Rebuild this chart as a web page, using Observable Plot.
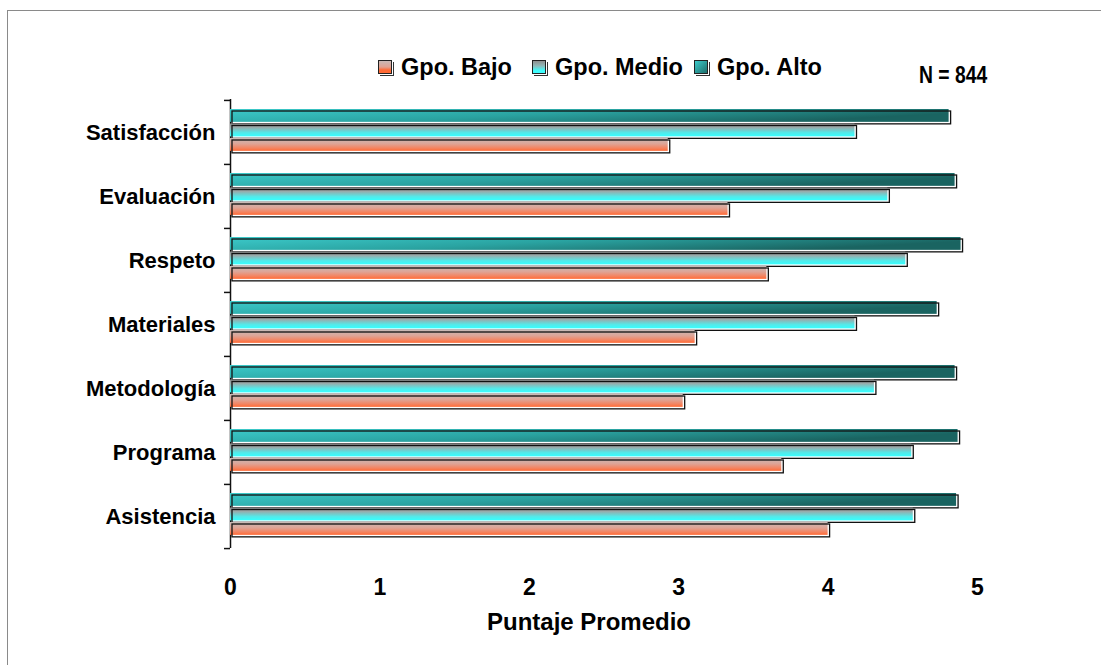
<!DOCTYPE html>
<html>
<head>
<meta charset="utf-8">
<script src="https://cdn.jsdelivr.net/npm/d3@7"></script>
<script src="https://cdn.jsdelivr.net/npm/@observablehq/plot@0.6"></script>
<style>
  body { margin: 0; background: #fff; }
  #wrap { position: relative; width: 1101px; height: 665px; overflow: hidden; font-family: "Liberation Sans", Arial, sans-serif; }
  #border { position: absolute; left: 7px; top: 10px; width: 1300px; height: 900px; border-top: 1.5px solid #8a8a8a; border-left: 1.5px solid #8a8a8a; pointer-events: none; }
  #legend { position: relative; height: 90px; }
  .sw { position: absolute; top: 60px; width: 12px; height: 12px; border: 1.2px solid #222; box-shadow: 1px 1px 0 #fff, 2px 2px 0 #333; }
  .tx { position: absolute; top: 53px; font-weight: bold; font-size: 23.5px; line-height: 28px; color: #000; white-space: nowrap; }
  #n { position: absolute; left: 919px; top: 61px; font-weight: bold; font-size: 23px; line-height: 28px; transform: scaleX(0.84); transform-origin: left center; white-space: nowrap; }
  #chart { display: block; }
</style>
</head>
<body>
<div id="wrap">
  <div id="border"></div>
  <div id="legend"></div>
  <div id="chart"></div>
</div>
<script>
// ---- data ----
const categories = ["Satisfacción", "Evaluación", "Respeto", "Materiales", "Metodología", "Programa", "Asistencia"];
const seriesNames = ["Gpo. Bajo", "Gpo. Medio", "Gpo. Alto"];
const bajo  = [2.93, 3.33, 3.59, 3.11, 3.03, 3.69, 4.00];
const medio = [4.18, 4.40, 4.52, 4.18, 4.31, 4.56, 4.57];
const alto  = [4.81, 4.85, 4.89, 4.73, 4.85, 4.87, 4.86];
const xTicks = [0, 1, 2, 3, 4, 5];
const xLabel = "Puntaje Promedio";
const nLabel = "N = 844";

// ---- layout ----
const W = 1101, H = 575, mT = 9, mB = 117, mL = 230, mR = 124;
const band = (H - mT - mB) / categories.length;
const pad = 9, slot = 14.5, barH = 13, shadow = 2;

const grads = {"Gpo. Bajo": "gBajo", "Gpo. Medio": "gMedio", "Gpo. Alto": "gAlto"};
const cssGrads = {
  "Gpo. Bajo": "linear-gradient(#c9b9b6, #e0a292 50%, #ff6a35 75%, #ff6a35)",
  "Gpo. Medio": "linear-gradient(#8e8e8e, #90b8b8 40%, #3ffcfc 80%)",
  "Gpo. Alto": "linear-gradient(135deg, #3ccaca, #1d6e6b)"
};

// legend (HTML, above the SVG)
const swLefts = [378, 532, 694];
const txLefts = [401, 555, 717];
const legend = document.getElementById("legend");
seriesNames.forEach((name, i) => {
  const sw = document.createElement("div");
  sw.className = "sw";
  sw.style.left = swLefts[i] + "px";
  sw.style.background = cssGrads[name];
  const tx = document.createElement("div");
  tx.className = "tx";
  tx.style.left = txLefts[i] + "px";
  tx.textContent = name;
  legend.appendChild(sw); legend.appendChild(tx);
});
const n = document.createElement("div");
n.id = "n"; n.textContent = nLabel;
legend.appendChild(n);

// series top-to-bottom within each band
const groups = [
  {name: "Gpo. Alto", vals: alto},
  {name: "Gpo. Medio", vals: medio},
  {name: "Gpo. Bajo", vals: bajo}
];
const rows = vals => categories.map((c, i) => ({cat: c, v: vals[i]}));

const marks = [Plot.ruleX([0], {stroke: "#111", strokeWidth: 1.5})];
groups.forEach((g, k) => {
  const it = pad + k * slot;
  const ib = band - it - barH;
  marks.push(Plot.barX(rows(g.vals), {x: "v", y: "cat", fill: `url(#${grads[g.name]})`, insetTop: it, insetBottom: ib}));
  marks.push(Plot.barX(rows(g.vals), {x: "v", y: "cat", fill: "none", stroke: "#111", strokeWidth: 1.3, insetTop: it, insetBottom: ib, dx: shadow, dy: shadow}));
});

marks.push(
  Plot.axisY({tickSize: 0, tickPadding: 15, fontSize: 22, fontWeight: "bold", fill: "#000", label: null}),
  Plot.axisY({ticks: categories, tickSize: 6, tickFormat: () => "", dy: -band / 2, stroke: "#111", strokeWidth: 1.5, label: null}),
  Plot.axisY({ticks: [categories[categories.length - 1]], tickSize: 6, tickFormat: () => "", dy: band / 2, stroke: "#111", strokeWidth: 1.5, label: null}),
  Plot.axisX({ticks: xTicks, tickFormat: d3.format("d"), tickSize: 0, tickPadding: 30, fontSize: 23, fontWeight: "bold", fill: "#000", label: null}),
  Plot.text([xLabel], {text: d => d, frameAnchor: "bottom", lineAnchor: "middle", dy: 74, dx: -15, fontSize: 24, fontWeight: "bold", fill: "#000"})
);

const svg = Plot.plot({
  width: W, height: H,
  marginTop: mT, marginBottom: mB, marginLeft: mL, marginRight: mR,
  style: {background: "white", fontFamily: "'Liberation Sans', Arial, sans-serif", overflow: "visible"},
  x: {domain: [0, 5]},
  y: {domain: categories, padding: 0},
  marks
});

// gradients for bar fills
const defs = d3.select(svg).insert("defs", ":first-child");
function grad(id, attrs, stops) {
  const g = defs.append("linearGradient").attr("id", id);
  Object.entries(attrs).forEach(([k, v]) => g.attr(k, v));
  stops.forEach(([o, c]) => g.append("stop").attr("offset", o).attr("stop-color", c));
}
grad("gAlto", {x1: 0, y1: 0, x2: 1, y2: 0.35}, [[0, "#3ccaca"], [0.5, "#2aa3a1"], [1, "#1a6461"]]);
grad("gMedio", {x1: 0, y1: 0, x2: 0, y2: 1}, [[0, "#8a8a8a"], [0.3, "#9aaaaa"], [0.7, "#55e8e8"], [1, "#36ffff"]]);
grad("gBajo", {x1: 0, y1: 0, x2: 0, y2: 1}, [[0, "#c8bab7"], [0.45, "#dea496"], [0.8, "#f5825e"], [1, "#ff6a35"]]);

document.getElementById("chart").appendChild(svg);
</script>
</body>
</html>
